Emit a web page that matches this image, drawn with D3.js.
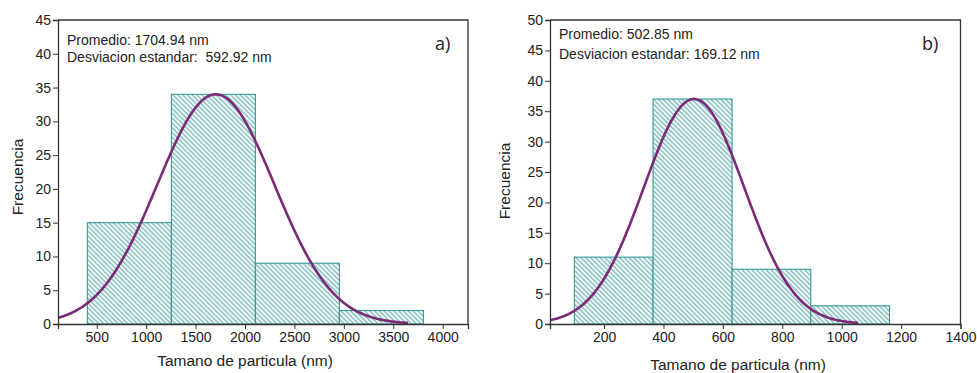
<!DOCTYPE html>
<html>
<head>
<meta charset="utf-8">
<script src="https://cdn.jsdelivr.net/npm/d3@7"></script>
<style>
  html, body { margin: 0; padding: 0; background: #ffffff; }
  svg { display: block; }
  text { font-family: "Liberation Sans", Arial, sans-serif; fill: #222; }
</style>
</head>
<body>
<svg id="chart" width="977" height="373"></svg>
<script>
// ---- Panel a) ----
const binEdgesA = [405, 1255, 2105, 2955, 3805];
const countsA = [15, 34, 9, 2];
const meanA = 1704.94;
const sdA = 592.92;
const peakA = 34;
const xTicksA = [500, 1000, 1500, 2000, 2500, 3000, 3500, 4000];
const yTicksA = [0, 5, 10, 15, 20, 25, 30, 35, 40, 45];

// ---- Panel b) ----
const binEdgesB = [100, 365, 631, 896, 1161];
const countsB = [11, 37, 9, 3];
const meanB = 502.85;
const sdB = 169.12;
const peakB = 37;
const xTicksB = [200, 400, 600, 800, 1000, 1200, 1400];
const yTicksB = [0, 5, 10, 15, 20, 25, 30, 35, 40, 45, 50];

const svg = d3.select("#chart");

// diagonal hatch fill for the bars
const defs = svg.append("defs");
const pat = defs.append("pattern")
  .attr("id", "hatch")
  .attr("patternUnits", "userSpaceOnUse")
  .attr("width", 3.4).attr("height", 3.4)
  .attr("patternTransform", "rotate(-45)");
pat.append("rect").attr("width", 3.4).attr("height", 3.4).attr("fill", "#f2fafa");
pat.append("line")
  .attr("x1", 0.8).attr("y1", 0).attr("x2", 0.8).attr("y2", 3.4)
  .attr("stroke", "#5aa5a5").attr("stroke-width", 1);

function panel(cfg) {
  const g = svg.append("g");
  const x = d3.scaleLinear().domain(cfg.xDomain).range([cfg.left, cfg.right]);
  const y = d3.scaleLinear().domain(cfg.yDomain).range([cfg.bottom, cfg.top]);

  // bars
  const bins = cfg.counts.map((c, i) => ({ x0: cfg.edges[i], x1: cfg.edges[i + 1], c }));
  g.selectAll("rect.bar").data(bins).enter().append("rect")
    .attr("class", "bar")
    .attr("x", d => x(d.x0))
    .attr("y", d => y(d.c))
    .attr("width", d => x(d.x1) - x(d.x0))
    .attr("height", d => y(0) - y(d.c))
    .attr("fill", "url(#hatch)")
    .attr("stroke", "#3a9898")
    .attr("stroke-width", 1.1);

  // fitted normal curve
  const pts = d3.range(cfg.xDomain[0], cfg.curveEnd, (cfg.curveEnd - cfg.xDomain[0]) / 300)
    .concat([cfg.curveEnd])
    .map(v => [v, cfg.peak * Math.exp(-0.5 * Math.pow((v - cfg.mean) / cfg.sd, 2))]);
  g.append("path")
    .datum(pts)
    .attr("fill", "none")
    .attr("stroke", "#7b2a78")
    .attr("stroke-width", 2.6)
    .attr("d", d3.line().x(d => x(d[0])).y(d => y(d[1])));

  // frame (top and right)
  g.append("path")
    .attr("d", `M${cfg.left},${cfg.top}H${cfg.right}V${cfg.bottom}`)
    .attr("fill", "none").attr("stroke", "#333").attr("stroke-width", 1.3);

  // x axis
  const xAxis = g.append("g").attr("transform", `translate(0,${cfg.bottom})`);
  xAxis.call(d3.axisBottom(x).tickValues(cfg.xMinor).tickSize(3).tickFormat(""));
  xAxis.call(d3.axisBottom(x).tickValues(cfg.xTicks).tickSize(5).tickFormat(d3.format("d")));
  // y axis
  const yAxis = g.append("g").attr("transform", `translate(${cfg.left},0)`);
  if (cfg.yMinor) yAxis.call(d3.axisLeft(y).tickValues(cfg.yMinor).tickSize(3).tickFormat(""));
  yAxis.call(d3.axisLeft(y).tickValues(cfg.yTicks).tickSize(5).tickFormat(d3.format("d")));

  [xAxis, yAxis].forEach(a => {
    a.selectAll("path.domain").attr("stroke", "#333").attr("stroke-width", 1.3);
    a.selectAll(".tick line").attr("stroke", "#333").attr("stroke-width", 1);
    a.selectAll(".tick text").attr("fill", "#222")
      .style("font-family", "'Liberation Sans', Arial, sans-serif")
      .style("font-size", "14px");
  });
  xAxis.selectAll(".tick text").attr("dy", "0.72em").attr("y", 8);
  yAxis.selectAll(".tick text").attr("x", -7);

  // axis titles
  g.append("text")
    .attr("x", cfg.xTitleX).attr("y", cfg.xTitleY)
    .attr("text-anchor", "middle")
    .style("font-size", "15.5px")
    .text("Tamano de particula (nm)");
  g.append("text")
    .attr("transform", `translate(${cfg.yTitleX},${cfg.yTitleY}) rotate(-90)`)
    .attr("text-anchor", "middle")
    .style("font-size", "15.5px")
    .text("Frecuencia");

  // statistics
  g.append("text").attr("x", cfg.left + 9).attr("y", cfg.stat1Y)
    .style("font-size", "14px").text(cfg.stat1);
  g.append("text").attr("x", cfg.left + 9).attr("y", cfg.stat2Y)
    .style("font-size", "14px").style("white-space", "pre").attr("xml:space", "preserve").text(cfg.stat2);

  // panel letter
  g.append("text").attr("x", cfg.letterX).attr("y", 50)
    .style("font-family", "'Open Sans', sans-serif")
    .style("font-size", "18px").attr("fill", "#111").text(cfg.letter);
}

panel({
  left: 58, right: 468, top: 20, bottom: 324,
  xDomain: [108, 4256], yDomain: [0, 45],
  edges: binEdgesA, counts: countsA,
  mean: meanA, sd: sdA, peak: peakA, curveEnd: 3650,
  xTicks: xTicksA, xMinor: d3.range(250, 4251, 250),
  yTicks: yTicksA, yMinor: null,
  xTitleX: 245, xTitleY: 366, yTitleX: 23, yTitleY: 177,
  stat1: "Promedio: " + meanA.toFixed(2) + " nm", stat1Y: 45,
  stat2: "Desviacion estandar:  " + sdA.toFixed(2) + " nm", stat2Y: 62,
  letter: "a)", letterX: 435
});

panel({
  left: 550, right: 960.5, top: 20, bottom: 324,
  xDomain: [18, 1400], yDomain: [0, 50],
  edges: binEdgesB, counts: countsB,
  mean: meanB, sd: sdB, peak: peakB, curveEnd: 1055,
  xTicks: xTicksB, xMinor: d3.range(100, 1400, 100),
  yTicks: yTicksB, yMinor: d3.range(2.5, 50, 5),
  xTitleX: 738, xTitleY: 370, yTitleX: 510, yTitleY: 181,
  stat1: "Promedio: " + meanB.toFixed(2) + " nm", stat1Y: 39,
  stat2: "Desviacion estandar: " + sdB.toFixed(2) + " nm", stat2Y: 59,
  letter: "b)", letterX: 922
});
</script>
</body>
</html>
